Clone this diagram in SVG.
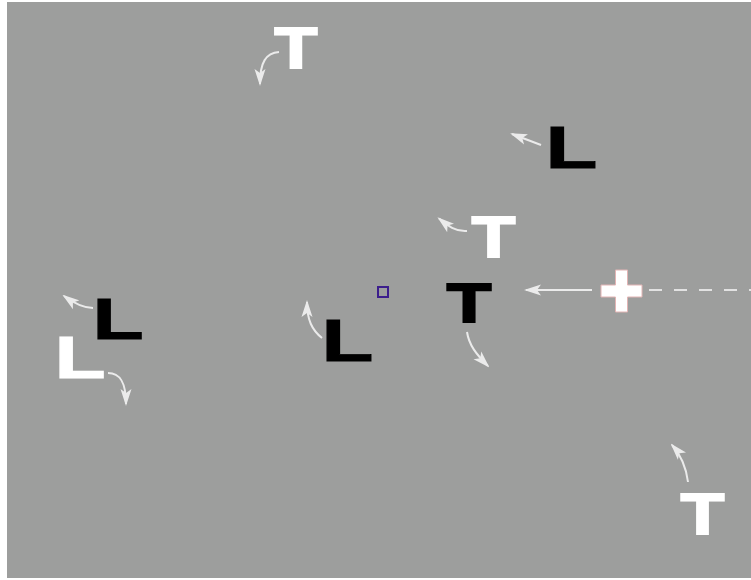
<svg xmlns="http://www.w3.org/2000/svg" width="751" height="580" viewBox="0 0 751 580">
<defs>
<style>
.bg{fill:#9d9e9d}
.lt{font-family:"Liberation Sans",Arial,sans-serif;font-weight:bold;font-size:57px;stroke-width:2;stroke-linejoin:miter}
.ll{font-family:"Liberation Sans",Arial,sans-serif;font-weight:bold;font-size:59px;stroke-width:1;stroke-linejoin:miter}
.w{fill:#ffffff;stroke:#ffffff}
.k{fill:#000000;stroke:#000000}
.arr{fill:none;stroke:#ebebeb;stroke-width:2;marker-end:url(#ah)}
</style>
<marker id="ah" markerUnits="userSpaceOnUse" markerWidth="17" markerHeight="12" refX="15" refY="6" orient="auto">
<path d="M0,0.5 L17,6 L0,11.5 L4,6 z" fill="#ebebeb"/>
</marker>
</defs>
<rect x="0" y="0" width="751" height="580" fill="#ffffff"/>
<rect class="bg" x="7" y="2" width="744" height="576"/>

<g id="connectors">
<path class="arr" d="M279,52 C266,53 260,62 260,84"/>
<path class="arr" d="M541,145 L512,134"/>
<path class="arr" d="M467,231 C455,232 447,225 439,218.5"/>
<path class="arr" d="M467,332 C469,345 476,354 488,366"/>
<path class="arr" d="M592,290 L526,290"/>
<path class="arr" d="M322,338 C312,330 307,320 307,302"/>
<path class="arr" d="M93,308 C85,308 75,304 64,296"/>
<path class="arr" d="M108,373 C120,373 126,382 126,404"/>
<path class="arr" d="M688,482 C686,466 680,454 672,445"/>
<path d="M649,290 L751,290" fill="none" stroke="#e2e2e2" stroke-width="2" stroke-dasharray="13 12"/>
</g>

<g id="t1"><text class="lt w" text-anchor="middle" transform="translate(296,68) scale(1.23,1)">T</text></g>
<g id="t2"><text class="lt w" text-anchor="middle" transform="translate(493.5,257) scale(1.25,1.02)">T</text></g>
<g id="t3"><text class="lt k" text-anchor="middle" transform="translate(469,322) scale(1.28,0.98)">T</text></g>
<g id="t4"><text class="lt w" text-anchor="middle" transform="translate(702.5,534) scale(1.25,1)">T</text></g>

<g id="l1"><text class="ll k" x="-3.8" transform="translate(551,167.5) scale(1.44,1)">L</text></g>
<g id="l2"><text class="ll k" x="-3.8" transform="translate(327,360.5) scale(1.44,1)">L</text></g>
<g id="l3"><text class="ll k" x="-3.8" transform="translate(98,338.5) scale(1.42,0.98)">L</text></g>
<g id="l4"><text class="ll w" x="-3.8" transform="translate(60,377.5) scale(1.42,1)">L</text></g>

<g id="cross">
<path d="M615.5,270 H627.5 V285 H642 V297 H627.5 V312 H615.5 V297 H601 V285 H615.5 Z" fill="#ffffff" stroke="#e2b4b4" stroke-width="1"/>
</g>

<g id="fixation">
<rect x="378" y="287" width="10" height="10" fill="none" stroke="#3c1e8c" stroke-width="2"/>
</g>
</svg>
